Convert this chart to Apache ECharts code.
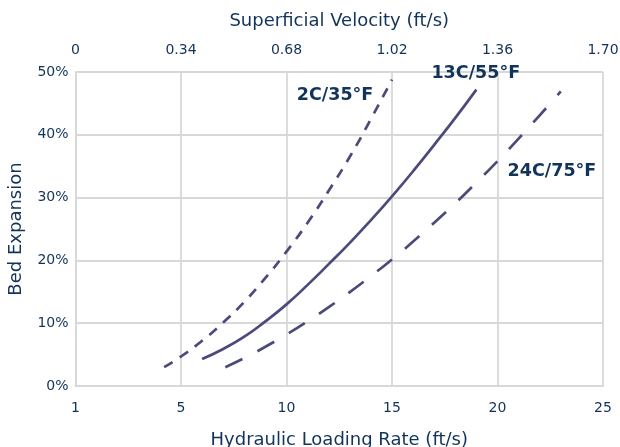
<!DOCTYPE html>
<html>
<head>
<meta charset="utf-8">
<script src="https://cdn.jsdelivr.net/npm/echarts@6/dist/echarts.min.js"></script>
<style>html,body{margin:0;padding:0;background:#fff}#c{width:620px;height:447px}</style>
</head>
<body>
<div id="c"></div>
<script>
// Hydraulic loading rate (x) vs bed expansion (%) for three temperatures
const s2C_x = [4.2, 5, 6, 7, 8, 9, 10, 11, 12, 13, 14, 15];
const s2C_y = [3.0, 4.7, 7.2, 10.1, 13.4, 17.2, 21.4, 26.0, 31.1, 36.5, 42.5, 48.8];
const s13C_x = [6, 7, 8, 9, 10, 11, 12, 13, 14, 15, 16, 17, 18, 19];
const s13C_y = [4.3, 5.9, 7.85, 10.3, 13.0, 16.1, 19.4, 22.8, 26.4, 30.2, 34.2, 38.4, 42.7, 47.2];
const s24C_x = [7.1, 8, 9, 10, 11, 12, 13, 14, 15, 16, 17, 18, 19, 20, 21, 22, 23];
const s24C_y = [3.0, 4.45, 6.25, 8.2, 10.3, 12.55, 14.95, 17.5, 20.15, 23.0, 26.0, 29.1, 32.4, 35.8, 39.4, 43.1, 46.9];
const seriesNames = ['2C/35°F', '13C/55°F', '24C/75°F'];
const labelPos = [[12.3, 46.2], [18.97, 49.7], [22.58, 34.1]];
const yTicks = [0, 10, 20, 30, 40, 50];

const txt = '#12335a';
const lineColor = '#4b4a7a';
const gridColor = '#d8d8d8';
const font = 'DejaVu Sans';

function pairs(xs, ys) { return xs.map((x, i) => [x, ys[i]]); }
function labelMark(i) {
  return {
    symbolSize: 0,
    silent: true,
    label: { show: true, formatter: seriesNames[i], color: txt, fontFamily: font, fontWeight: 'bold', fontSize: 17.5, position: 'inside' },
    data: [{ coord: labelPos[i] }]
  };
}

const chart = echarts.init(document.getElementById('c'));
chart.setOption({
  animation: false,
  grid: { left: 75.5, right: 17, top: 72, bottom: 61, containLabel: false, outerBoundsMode: 'none' },
  xAxis: [
    {
      type: 'value', position: 'bottom', min: 0, max: 25, interval: 5,
      name: 'Hydraulic Loading Rate (ft/s)', nameLocation: 'middle', nameGap: 45,
      nameTextStyle: { color: txt, fontFamily: font, fontSize: 18 },
      axisLine: { show: true, lineStyle: { color: gridColor, width: 1.8 } },
      axisTick: { show: false },
      axisLabel: { color: txt, fontFamily: font, fontSize: 14, margin: 15, formatter: v => v === 0 ? '1' : String(v) },
      splitLine: { show: true, lineStyle: { color: gridColor, width: 1.8 } }
    },
    {
      type: 'value', position: 'top', min: 0, max: 1.7, interval: 0.34,
      name: 'Superficial Velocity (ft/s)', nameLocation: 'middle', nameGap: 42,
      nameTextStyle: { color: txt, fontFamily: font, fontSize: 18 },
      axisLine: { show: false },
      axisTick: { show: false },
      axisLabel: { color: txt, fontFamily: font, fontSize: 14, margin: 15, formatter: v => v === 0 ? '0' : v.toFixed(2) },
      splitLine: { show: false }
    }
  ],
  yAxis: {
    type: 'value', min: yTicks[0], max: yTicks[yTicks.length - 1], interval: 10,
    name: 'Bed Expansion', nameLocation: 'middle', nameGap: 50,
    nameTextStyle: { color: txt, fontFamily: font, fontSize: 18 },
    axisLine: { show: true, lineStyle: { color: gridColor, width: 1.8 } },
    axisTick: { show: false },
    axisLabel: { color: txt, fontFamily: font, fontSize: 14, margin: 7, formatter: v => v + '%' },
    splitLine: { show: true, lineStyle: { color: gridColor, width: 1.8 } }
  },
  series: [
    {
      name: seriesNames[0], type: 'line', smooth: true, showSymbol: false, xAxisIndex: 0,
      data: pairs(s2C_x, s2C_y),
      lineStyle: { color: lineColor, width: 2.7, type: [10, 8.5] },
      markPoint: labelMark(0)
    },
    {
      name: seriesNames[1], type: 'line', smooth: true, showSymbol: false, xAxisIndex: 0,
      data: pairs(s13C_x, s13C_y),
      lineStyle: { color: lineColor, width: 2.7, type: 'solid' },
      markPoint: labelMark(1)
    },
    {
      name: seriesNames[2], type: 'line', smooth: true, showSymbol: false, xAxisIndex: 0,
      data: pairs(s24C_x, s24C_y),
      lineStyle: { color: lineColor, width: 2.7, type: [19, 17] },
      markPoint: labelMark(2)
    }
  ]
});
</script>
</body>
</html>
